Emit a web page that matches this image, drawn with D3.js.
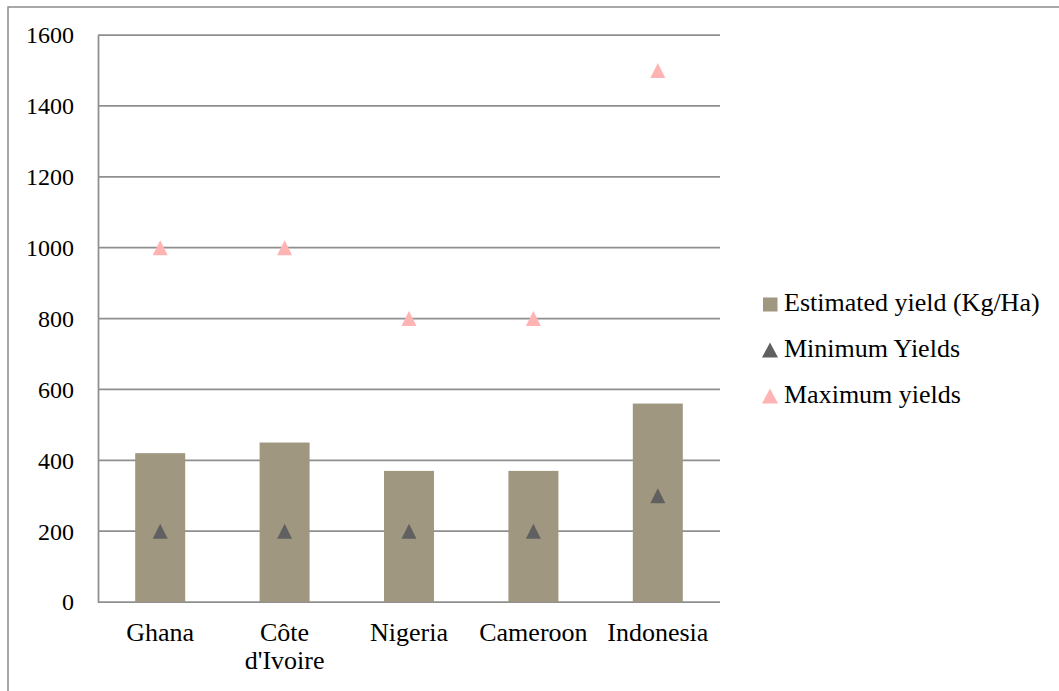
<!DOCTYPE html>
<html><head><meta charset="utf-8">
<script src="https://cdn.jsdelivr.net/npm/d3@7"></script>
<style>body{margin:0;background:#fff;} svg{display:block;}</style>
</head><body>
<svg id="c" width="1059" height="691" font-family="'Liberation Serif', 'DejaVu Serif', serif"></svg>
<script>
const categories = ["Ghana", "Côte d'Ivoire", "Nigeria", "Cameroon", "Indonesia"];
const estimatedYield = [420, 450, 370, 370, 560];
const minimumYields = [200, 200, 200, 200, 300];
const maximumYields = [1000, 1000, 800, 800, 1500];
const yTicks = [0, 200, 400, 600, 800, 1000, 1200, 1400, 1600];
const seriesNames = ["Estimated yield (Kg/Ha)", "Minimum Yields", "Maximum yields"];
const colors = ["#A09781", "#606060", "#FFB3B3"];
const FONT = "'Liberation Serif', 'DejaVu Serif', serif";

const svg = d3.select("#c");
svg.append("rect").attr("x", 8).attr("y", 7).attr("width", 1060).attr("height", 700)
  .attr("fill", "none").attr("stroke", "#8c8c8c").attr("stroke-width", 1.5);

const L = 98, R = 720, T = 35, B = 602;
const xc = d3.scaleBand().domain(categories).range([L, R]);
const cx = d => xc(d) + xc.bandwidth() / 2;
const y = d3.scaleLinear().domain([0, 1600]).range([B, T]);

svg.append("g").selectAll("line").data(yTicks).join("line")
  .attr("x1", L).attr("x2", R).attr("y1", d => y(d)).attr("y2", d => y(d))
  .attr("stroke", "#8f8f8f").attr("stroke-width", 1.75);

const ya = svg.append("g").attr("transform", `translate(${L},0)`)
  .call(d3.axisLeft(y).tickValues(yTicks).tickSize(0).tickPadding(24).tickFormat(d3.format("d")));
ya.attr("font-family", FONT).attr("font-size", 24);
ya.select(".domain").attr("stroke", "#8f8f8f").attr("stroke-width", 1.75);
ya.selectAll("text").style("font-family", FONT).style("font-size", "24px").attr("fill", "#000").attr("dy", "0.33em");

svg.append("g").selectAll("rect").data(categories).join("rect")
  .attr("x", d => cx(d) - 25)
  .attr("width", 50)
  .attr("y", (d, i) => y(estimatedYield[i]))
  .attr("height", (d, i) => B - y(estimatedYield[i]))
  .attr("fill", colors[0]);

const xl = svg.append("g").selectAll("text").data(categories).join("text")
  .attr("text-anchor", "middle").style("font-family", FONT).style("font-size", "26px")
  .attr("x", d => cx(d)).attr("y", 641);
xl.each(function(d) {
  const sel = d3.select(this);
  const parts = d === "Côte d'Ivoire" ? ["Côte", "d'Ivoire"] : [d];
  parts.forEach((p, k) => sel.append("tspan").attr("x", cx(d)).attr("dy", k === 0 ? 0 : 28).text(p));
});

// triangle marker centred on its bounding box
function triPath(w, h) {
  const p = d3.path();
  p.moveTo(0, -h / 2); p.lineTo(w / 2, h / 2); p.lineTo(-w / 2, h / 2); p.closePath();
  return p.toString();
}
function markers(vals, col) {
  svg.append("g").selectAll("path").data(categories).join("path")
    .attr("d", triPath(15, 15))
    .attr("transform", (d, i) => `translate(${cx(d)},${y(vals[i])})`)
    .attr("fill", col);
}
markers(minimumYields, colors[1]);
markers(maximumYields, colors[2]);

const lg = svg.append("g");
const ly = [311, 357, 403];
seriesNames.forEach((n, i) => {
  if (i === 0) lg.append("rect").attr("x", 763).attr("y", ly[i] - 13.5).attr("width", 14.5).attr("height", 14).attr("fill", colors[0]);
  else lg.append("path").attr("d", triPath(16, 15)).attr("transform", `translate(770,${ly[i] - 7})`).attr("fill", colors[i]);
  lg.append("text").attr("x", 784).attr("y", ly[i])
    .style("font-family", FONT).style("font-size", "26px").text(n);
});
</script>
</body></html>
